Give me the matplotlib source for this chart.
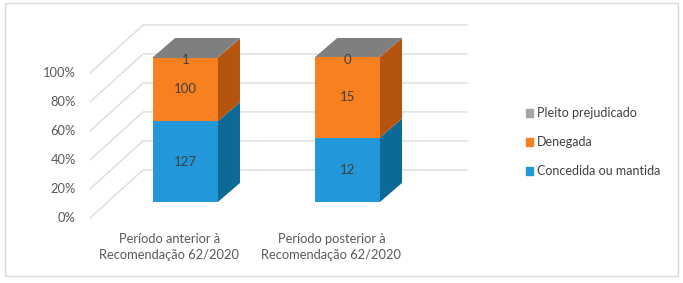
import numpy as np
import matplotlib
matplotlib.use("Agg")
import matplotlib.pyplot as plt
from matplotlib.patches import Polygon, Rectangle

plt.rcParams['font.family'] = ['Lato', 'DejaVu Sans']

# data
categories = ['Período anterior à\nRecomendação 62/2020',
              'Período posterior à\nRecomendação 62/2020']
series = ['Concedida ou mantida', 'Denegada', 'Pleito prejudicado']
concedida = [127, 12]
denegada = [100, 15]
prejudicado = [1, 0]
yticks = [0, 20, 40, 60, 80, 100]

front = {'Concedida ou mantida': '#2298DA', 'Denegada': '#F8801F', 'Pleito prejudicado': '#7F7F7F'}
side = {'Concedida ou mantida': '#0D6A96', 'Denegada': '#B5540F', 'Pleito prejudicado': '#5F5F5F'}
legend_col = {'Concedida ou mantida': '#2298DA', 'Denegada': '#F8801F', 'Pleito prejudicado': '#A5A5A5'}

values = np.array([concedida, denegada, prejudicado], dtype=float)
pct = values / values.sum(axis=0) * 100

fig = plt.figure(figsize=(6.83, 2.83), dpi=100)
ax = fig.add_axes([0, 0, 1, 1])
ax.set_xlim(-1.145, 3.07)
ax.set_ylim(-55.9, 139.3)
ax.axis('off')

# frame around the chart
fig.patches.append(Rectangle((5 / 683, 7 / 283), 673 / 683, 273 / 283, transform=fig.transFigure,
                             fill=False, edgecolor='#D9D9D9', lw=1))

# 3d walls (oblique projection)
wx0, wy0 = -0.589, -11.0   # front-left of floor
wx1, wy1 = -0.262, 22.1    # back-left
wx2 = 1.737                # back-right
for v in yticks:
    ax.plot([wx0, wx1, wx2], [wy0 + v, wy1 + v, wy1 + v], color='#D9D9D9', lw=0.9, zorder=1)
    ax.text(-0.676, wy0 + v, f'{v}%', ha='right', va='center', fontsize=9.3, color='#595959')

# bars
width = 0.40
ddx, ddy = 0.136, 13.1
x = np.arange(len(categories))
for i in x:
    bottom = 0
    for k, name in enumerate(series):
        h = pct[k, i]
        ax.bar(i, h, width, bottom=bottom, color=front[name], zorder=3)
        xr = i + width / 2
        ax.add_patch(Polygon([(xr, bottom), (xr + ddx, bottom + ddy), (xr + ddx, bottom + h + ddy),
                              (xr, bottom + h)], closed=True, color=side[name], lw=0, zorder=3))
        if k == len(series) - 1:
            xl = i - width / 2
            top = bottom + h
            ax.add_patch(Polygon([(xl, top), (xl + ddx, top + ddy), (xr + ddx, top + ddy), (xr, top)],
                                 closed=True, color=front[name], lw=0, zorder=3))
        ax.text(i, bottom + h / 2 - (2 if k == len(series) - 1 else 0), f'{int(values[k, i])}',
                ha='center', va='center', fontsize=9.5, color='#404040', zorder=4)
        bottom += h
    ax.text(i - 0.10, -31, categories[i], ha='center', va='center', fontsize=9.3,
            color='#595959', linespacing=1.4)

handles = [Rectangle((0, 0), 1, 1, color=legend_col[s]) for s in series[::-1]]
ax.legend(handles, series[::-1], loc='center left', bbox_to_anchor=(0.753, 0.497),
          bbox_transform=fig.transFigure, frameon=False, fontsize=9, handlelength=0.6,
          handleheight=0.6, handletextpad=0.3, labelspacing=1.35, labelcolor='#404040')

fig.savefig('out.png', dpi=100)
